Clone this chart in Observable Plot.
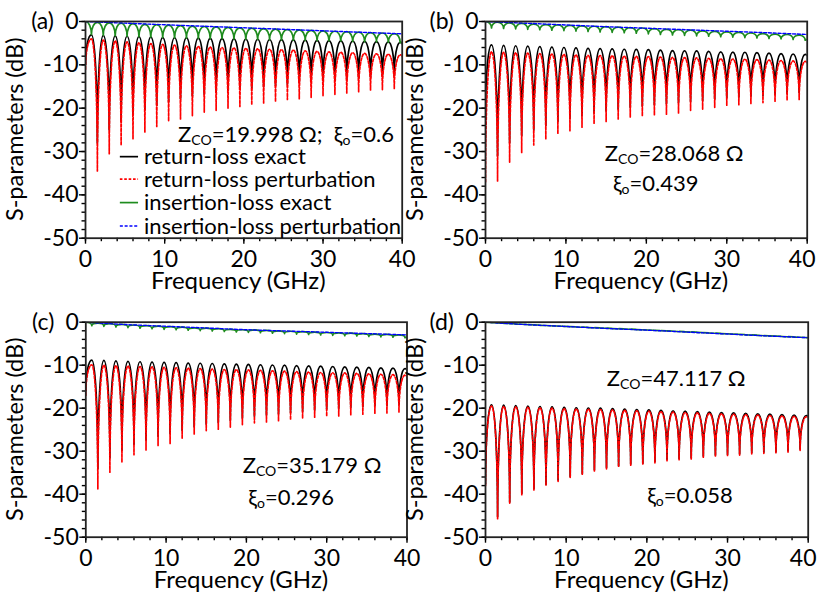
<!DOCTYPE html>
<html>
<head>
<meta charset="utf-8">
<script src="https://cdn.jsdelivr.net/npm/d3@7"></script>
<script src="https://cdn.jsdelivr.net/npm/@observablehq/plot@0.6"></script>
<style>
  html, body { margin: 0; padding: 0; background: #fff; }
  #wrap { position: relative; width: 817px; height: 598px; overflow: hidden; font-family: Lato, "Open Sans", sans-serif; }
  .panel { position: absolute; }
</style>
</head>
<body>
<div id="wrap"></div>
<script>
// ---------------- data ----------------
const dipF  = [0,1.5,3,4.5,6,7.5,9,10.5,12,13.5,15,16.5,18,19.5,21,22.5,24,25.5,27,28.5,30,31.5,33,34.5,36,37.5,39];
const peakF = [0.75,2.25,3.75,5.25,6.75,8.25,9.75,11.25,12.75,14.25,15.75,17.25,18.75,20.25,21.75,23.25,24.75,26.25,27.75,29.25,30.75,32.25,33.75,35.25,36.75,38.25,39.75];
const endF = 40;
const blueF = [0,5,10,15,20,25,30,35,40];
const xMajor = [0,10,20,30,40];
const xMinor = [0,2,4,6,8,10,12,14,16,18,20,22,24,26,28,30,32,34,36,38,40];
const yMajor = [0,-10,-20,-30,-40,-50];
const yMinor = [0,-2,-4,-6,-8,-10,-12,-14,-16,-18,-20,-22,-24,-26,-28,-30,-32,-34,-36,-38,-40,-42,-44,-46,-48,-50];

// panel (a)
const blackPeakA = [-3.1,-3.2,-3.3,-3.4,-3.5,-3.6,-3.7,-3.75,-3.8,-3.85,-3.9,-3.95,-4.0,-4.05,-4.1,-4.15,-4.2,-4.25,-4.3,-4.35,-4.4,-4.45,-4.5,-4.6,-4.65,-4.7,-4.8];
const blackDipA  = [-10,-28,-25,-23,-21.5,-20.3,-19.3,-18.5,-17.8,-17.2,-16.7,-16.3,-15.9,-15.6,-15.3,-15.0,-14.7,-14.4,-14.1,-13.9,-13.6,-13.4,-13.2,-13.0,-12.8,-12.6,-12.4];
const blackEndA = -5.2;
const redPeakA = [-4.0,-4.3,-4.5,-4.7,-4.9,-5.1,-5.3,-5.45,-5.6,-5.75,-5.9,-6.0,-6.1,-6.2,-6.3,-6.4,-6.5,-6.6,-6.75,-6.9,-7.0,-7.1,-7.2,-7.35,-7.45,-7.55,-7.7];
const redDipA  = [-11,-34.5,-30.5,-28.6,-27.1,-25.5,-24.2,-23.0,-22.5,-21.7,-20.9,-20.5,-20.0,-19.6,-19.2,-18.8,-18.5,-18.0,-17.8,-17.5,-17.1,-16.8,-16.5,-16.2,-15.8,-15.7,-15.5];
const redEndA = -8.2;
const greenMaxA = [0,-0.2,-0.3,-0.4,-0.5,-0.65,-0.75,-0.85,-0.95,-1.05,-1.15,-1.25,-1.35,-1.45,-1.55,-1.65,-1.75,-1.85,-1.95,-2.05,-2.15,-2.25,-2.35,-2.45,-2.55,-2.65,-2.8];
const greenMinA = [-3.0,-3.15,-3.3,-3.4,-3.5,-3.6,-3.7,-3.8,-3.85,-3.9,-3.95,-4.0,-4.05,-4.1,-4.15,-4.2,-4.25,-4.3,-4.35,-4.4,-4.45,-4.5,-4.6,-4.65,-4.7,-4.8,-4.9];
const greenEndA = -4.8;
const blueA = [0,-0.38,-0.75,-1.1,-1.45,-1.8,-2.15,-2.5,-2.85];

// panel (b)
const blackPeakB = [-5.4,-5.5,-5.6,-5.7,-5.8,-5.9,-6.0,-6.1,-6.2,-6.25,-6.3,-6.4,-6.45,-6.5,-6.6,-6.7,-6.75,-6.8,-6.9,-7.0,-7.05,-7.1,-7.2,-7.3,-7.4,-7.5,-7.6];
const blackDipB  = [-22,-31,-28,-26.3,-25,-24,-23,-22.3,-21.7,-21.1,-20.6,-20.2,-19.8,-19.5,-19.2,-18.9,-18.7,-18.4,-18.2,-17.9,-17.6,-17.4,-17.2,-17.0,-16.8,-16.6,-16.4];
const blackEndB = -7.9;
const redPeakB = [-7.0,-7.1,-7.2,-7.3,-7.4,-7.5,-7.6,-7.7,-7.8,-7.85,-7.9,-8.0,-8.05,-8.1,-8.2,-8.3,-8.35,-8.4,-8.5,-8.6,-8.65,-8.7,-8.8,-8.9,-9.0,-9.1,-9.2];
const redDipB  = [-37,-36.8,-32.5,-30.2,-28.5,-27.2,-25.9,-25.2,-24.4,-23.6,-23.1,-22.5,-22.1,-21.8,-21.6,-21.4,-21.1,-20.5,-20.2,-19.8,-19.4,-19.2,-18.9,-18.7,-18.5,-18.2,-18.0];
const redEndB = -9.8;
const greenMaxB = [0,-0.15,-0.3,-0.45,-0.6,-0.7,-0.8,-0.9,-1.0,-1.1,-1.2,-1.3,-1.4,-1.5,-1.65,-1.8,-1.9,-2.0,-2.15,-2.3,-2.4,-2.5,-2.65,-2.8,-2.9,-3.0,-3.15];
const greenMinB = [-1.5,-1.6,-1.7,-1.8,-1.9,-2.0,-2.1,-2.2,-2.3,-2.4,-2.5,-2.6,-2.7,-2.85,-3.0,-3.1,-3.2,-3.3,-3.4,-3.5,-3.6,-3.7,-3.8,-3.9,-4.0,-4.15,-4.3];
const greenEndB = -4.2;
const blueB = [0,-0.4,-0.8,-1.2,-1.55,-1.9,-2.25,-2.6,-3.0];

// panel (c)
const blackPeakC = [-8.8,-8.9,-9.0,-9.1,-9.2,-9.3,-9.35,-9.4,-9.5,-9.55,-9.6,-9.7,-9.75,-9.8,-9.9,-9.95,-10.0,-10.1,-10.15,-10.2,-10.3,-10.4,-10.45,-10.5,-10.6,-10.7,-10.8];
const blackDipC  = [-16,-34,-31.5,-29.8,-28.4,-27.4,-26.5,-25.9,-25.1,-24.3,-23.7,-23.3,-22.8,-22.3,-21.9,-21.6,-21.3,-21.0,-20.7,-20.4,-20.2,-20.0,-19.8,-19.6,-19.4,-19.3,-19.1];
const blackEndC = -11.2;
const redPeakC = [-9.9,-10.0,-10.1,-10.2,-10.3,-10.4,-10.5,-10.6,-10.7,-10.8,-10.9,-11.0,-11.05,-11.1,-11.2,-11.3,-11.4,-11.5,-11.6,-11.7,-11.75,-11.8,-11.9,-12.0,-12.1,-12.2,-12.3];
const redDipC  = [-17,-38.8,-34.9,-32.6,-30.8,-29.7,-28.7,-28.2,-27.1,-26.0,-25.2,-24.9,-24.4,-23.8,-23.4,-23.2,-23.0,-22.7,-22.4,-22.1,-21.9,-21.8,-21.6,-21.4,-21.2,-21.1,-20.9];
const redEndC = -13.0;
const greenMaxC = [0,-0.2,-0.35,-0.5,-0.65,-0.8,-0.9,-1.05,-1.15,-1.3,-1.4,-1.5,-1.65,-1.75,-1.8,-1.9,-2.0,-2.1,-2.2,-2.3,-2.4,-2.5,-2.55,-2.65,-2.75,-2.85,-2.95];
const greenMinC = [-0.8,-0.95,-1.1,-1.25,-1.4,-1.5,-1.65,-1.75,-1.85,-1.95,-2.05,-2.15,-2.25,-2.35,-2.45,-2.55,-2.65,-2.75,-2.85,-2.95,-3.05,-3.15,-3.2,-3.3,-3.4,-3.5,-3.6];
const greenEndC = -3.5;
const blueC = [0,-0.55,-0.95,-1.35,-1.75,-2.05,-2.35,-2.65,-2.95];

// panel (d)
const blackPeakD = [-19.2,-19.3,-19.4,-19.5,-19.6,-19.7,-19.8,-19.9,-19.95,-20.0,-20.1,-20.2,-20.3,-20.4,-20.5,-20.6,-20.7,-20.8,-20.9,-21.0,-21.1,-21.2,-21.3,-21.4,-21.5,-21.6,-21.7];
const blackDipD  = [-37.5,-45.2,-41.8,-39.8,-38.7,-37.7,-36.7,-35.9,-35.2,-34.3,-33.8,-33.4,-33.0,-32.8,-32.4,-31.9,-31.7,-31.5,-31.1,-30.9,-30.7,-30.6,-30.3,-30.2,-30.1,-29.9,-29.5];
const blackEndD = -21.9;
const redPeakD = [-19.5,-19.6,-19.7,-19.8,-19.9,-20.0,-20.1,-20.2,-20.25,-20.3,-20.4,-20.5,-20.6,-20.7,-20.8,-20.9,-21.0,-21.1,-21.2,-21.3,-21.4,-21.5,-21.6,-21.7,-21.8,-21.9,-22.0];
const redDipD  = [-38,-45.7,-42.2,-40.1,-39.0,-38.0,-37.0,-36.2,-35.5,-34.6,-34.1,-33.7,-33.3,-33.1,-32.7,-32.2,-32.0,-31.8,-31.4,-31.2,-31.0,-30.9,-30.6,-30.5,-30.4,-30.2,-29.8];
const redEndD = -22.2;
const greenMaxD = [0,-0.17,-0.33,-0.48,-0.63,-0.77,-0.9,-1.03,-1.15,-1.27,-1.39,-1.51,-1.63,-1.75,-1.88,-2.01,-2.14,-2.27,-2.41,-2.55,-2.69,-2.83,-2.97,-3.1,-3.23,-3.36,-3.5];
const greenMinD = [-0.1,-0.27,-0.43,-0.58,-0.72,-0.86,-0.99,-1.12,-1.24,-1.36,-1.48,-1.6,-1.72,-1.85,-1.98,-2.11,-2.24,-2.37,-2.51,-2.65,-2.79,-2.93,-3.07,-3.2,-3.33,-3.46,-3.6];
const greenEndD = -3.6;
const blueD = [0,-0.55,-1.0,-1.45,-1.85,-2.3,-2.75,-3.2,-3.6];

const panelLabels = ["(a)","(b)","(c)","(d)"];
const zcoTexts = ["19.998","28.068","35.179","47.117"];
const xiTexts = ["0.6","0.439","0.296","0.058"];
const legendLabels = ["return-loss exact","return-loss perturbation","insertion-loss exact","insertion-loss perturbation"];

// ---------------- helpers ----------------
function osc(dips, peaks, end) {
  const out = [];
  for (let i = 0; i < dipF.length; i++) {
    out.push({f: dipF[i], v: dips[i]});
    out.push({f: peakF[i], v: peaks[i]});
  }
  out.push({f: endF, v: end});
  return out;
}
function smooth(vals) { return blueF.map((f, i) => ({f, v: vals[i]})); }

// drawing style: arches with vertical tangents at the low points and flat tops
function archCurve(context) {
  let pts = [];
  return {
    areaStart() {}, areaEnd() {},
    lineStart() { pts = []; },
    point(x, y) { pts.push([+x, +y]); },
    lineEnd() {
      if (!pts.length) return;
      context.moveTo(pts[0][0], pts[0][1]);
      const k = 0.5523;
      for (let i = 1; i < pts.length; i++) {
        const [ax, ay] = pts[i - 1], [bx, by] = pts[i];
        const dx = bx - ax, dy = by - ay;
        if (by < ay) context.bezierCurveTo(ax, ay + k * dy, bx - k * dx, by, bx, by);
        else context.bezierCurveTo(ax + k * dx, ay, bx, by - k * dy, bx, by);
      }
    }
  };
}

const panels = [
  {left: 0, top: 0, w: 410, h: 300, mL: 85, mR: 8.3, mT: 21, mB: 62.3,
   black: osc(blackDipA, blackPeakA, blackEndA), red: osc(redDipA, redPeakA, redEndA),
   green: osc(greenMaxA, greenMinA, greenEndA), blue: smooth(blueA)},
  {left: 400, top: 0, w: 415, h: 300, mL: 85, mR: 8.3, mT: 21, mB: 62.3,
   black: osc(blackDipB, blackPeakB, blackEndB), red: osc(redDipB, redPeakB, redEndB),
   green: osc(greenMaxB, greenMinB, greenEndB), blue: smooth(blueB)},
  {left: 0, top: 300, w: 415, h: 298, mL: 85.3, mR: 8.5, mT: 21.7, mB: 61.3,
   black: osc(blackDipC, blackPeakC, blackEndC), red: osc(redDipC, redPeakC, redEndC),
   green: osc(greenMaxC, greenMinC, greenEndC), blue: smooth(blueC)},
  {left: 400, top: 300, w: 416, h: 298, mL: 85, mR: 8.3, mT: 21.7, mB: 61.3,
   black: osc(blackDipD, blackPeakD, blackEndD), red: osc(redDipD, redPeakD, redEndD),
   green: osc(greenMaxD, greenMinD, greenEndD), blue: smooth(blueD)}
];

// annotation placement (data coordinates of each panel)
const zcoPos = [[11.75, -26.1], [14.9, -30.5], [19.6, -33.3], [15.1, -13.1]];
const xiPos  = [null, [15.9, -37.4], [20.3, -40.8], [20.1, -40.3]];

const FONT = "Lato, 'Open Sans', sans-serif";
const RED_DASH = "2.6,1.8";
const BLUE_DASH = "3,1.8";
const wrap = document.getElementById("wrap");

panels.forEach((p, idx) => {
  const plot = Plot.plot({
    width: p.w, height: p.h,
    marginLeft: p.mL, marginRight: p.mR, marginTop: p.mT, marginBottom: p.mB,
    x: {domain: [0, 40]},
    y: {domain: [-50, 0]},
    style: {fontFamily: FONT, fontSize: "23px", color: "#000", background: "transparent", overflow: "visible"},
    marks: [
      Plot.line(p.black, {x: "f", y: "v", stroke: "#000", strokeWidth: 1.7, curve: archCurve, clip: true}),
      Plot.line(p.red, {x: "f", y: "v", stroke: "#ff0000", strokeWidth: 1.7, strokeDasharray: RED_DASH, curve: archCurve, clip: true}),
      Plot.line(p.green, {x: "f", y: "v", stroke: "#1e8c1e", strokeWidth: 1.7, curve: archCurve, clip: true}),
      Plot.line(p.blue, {x: "f", y: "v", stroke: "#0000ff", strokeWidth: 1.4, strokeDasharray: BLUE_DASH, curve: "catmull-rom", clip: true}),
      Plot.axisX(xMinor, {tickSize: 3.5, tickFormat: () => "", label: null, strokeWidth: 1.4}),
      Plot.axisX(xMajor, {tickSize: 6, tickPadding: 6, tickFormat: d => String(d), label: null, strokeWidth: 1.4, fontSize: 23}),
      Plot.axisY(yMinor, {tickSize: 3.5, tickFormat: () => "", label: null, strokeWidth: 1.4}),
      Plot.axisY(yMajor, {tickSize: 6, tickPadding: 1, tickFormat: d => String(d), label: null, strokeWidth: 1.4, fontSize: 23}),
      Plot.frame({stroke: "#222", strokeWidth: 1.8})
    ]
  });
  const div = document.createElement("div");
  div.className = "panel";
  div.style.left = p.left + "px";
  div.style.top = p.top + "px";
  div.appendChild(plot);
  wrap.appendChild(div);

  const sx = plot.scale("x"), sy = plot.scale("y");
  const X = v => sx.apply(v), Y = v => sy.apply(v);
  const svg = d3.select(plot);

  // keep the last x tick label of the right-hand panels inside the window
  if (idx % 2 === 1) {
    svg.selectAll("text").filter(function () { return this.textContent === "40"; }).attr("dx", -5);
  }

  const g = svg.append("g").attr("font-family", FONT).attr("fill", "#000").attr("text-anchor", "start");
  const x0 = X(0), x1 = X(40), y0 = Y(0), y1 = Y(-50);

  // axis titles
  g.append("text").attr("x", (x0 + x1) / 2 - 5).attr("y", y1 + 51).attr("text-anchor", "middle")
    .attr("font-size", 24).text("Frequency (GHz)");
  g.append("text").attr("transform", `translate(${x0 - 62},${(y0 + y1) / 2}) rotate(-90)`)
    .attr("text-anchor", "middle").attr("font-size", 23.5).text("S-parameters (dB)");
  // panel label
  g.append("text").attr("x", x0 - 31).attr("y", y0).attr("dy", "0.35em").attr("text-anchor", "end")
    .attr("font-size", 23).text(panelLabels[idx]);

  // Z_co annotation
  function zText(px, py, withXi) {
    const t = g.append("text").attr("x", px).attr("y", py).attr("dy", "0.35em").attr("font-size", 22).attr("text-anchor", "start");
    t.append("tspan").text("Z");
    t.append("tspan").attr("font-size", 14).attr("dy", 3).text("CO");
    t.append("tspan").attr("dy", -3).text("=" + zcoTexts[idx] + " \u03A9" + (withXi ? ";\u00A0\u00A0\u03BE" : ""));
    if (withXi) {
      t.append("tspan").attr("font-size", 14).attr("dy", 3).text("o");
      t.append("tspan").attr("dy", -3).text("=" + xiTexts[idx]);
    }
  }
  function xiText(px, py) {
    const t = g.append("text").attr("x", px).attr("y", py).attr("dy", "0.35em").attr("font-size", 22).attr("text-anchor", "start");
    t.append("tspan").text("\u03BE");
    t.append("tspan").attr("font-size", 14).attr("dy", 3).text("o");
    t.append("tspan").attr("dy", -3).text("=" + xiTexts[idx]);
  }
  zText(X(zcoPos[idx][0]), Y(zcoPos[idx][1]), idx === 0);
  if (xiPos[idx]) xiText(X(xiPos[idx][0]), Y(xiPos[idx][1]));

  // legend in panel (a)
  if (idx === 0) {
    const rowsDb = [-31.3, -36.5, -41.9, -47.3];
    const styles = [
      {stroke: "#000", dash: null}, {stroke: "#ff0000", dash: RED_DASH},
      {stroke: "#1e8c1e", dash: null}, {stroke: "#0000ff", dash: BLUE_DASH}
    ];
    legendLabels.forEach((lab, i) => {
      const yy = Y(rowsDb[i]);
      const ln = g.append("line").attr("x1", X(4.4)).attr("x2", X(6.7)).attr("y1", yy).attr("y2", yy)
        .attr("stroke", styles[i].stroke).attr("stroke-width", 1.7);
      if (styles[i].dash) ln.attr("stroke-dasharray", styles[i].dash);
      g.append("text").attr("x", X(7.45)).attr("y", yy).attr("dy", "0.35em").attr("font-size", 22)
        .attr("text-anchor", "start").text(lab);
    });
  }
});
</script>
</body>
</html>
